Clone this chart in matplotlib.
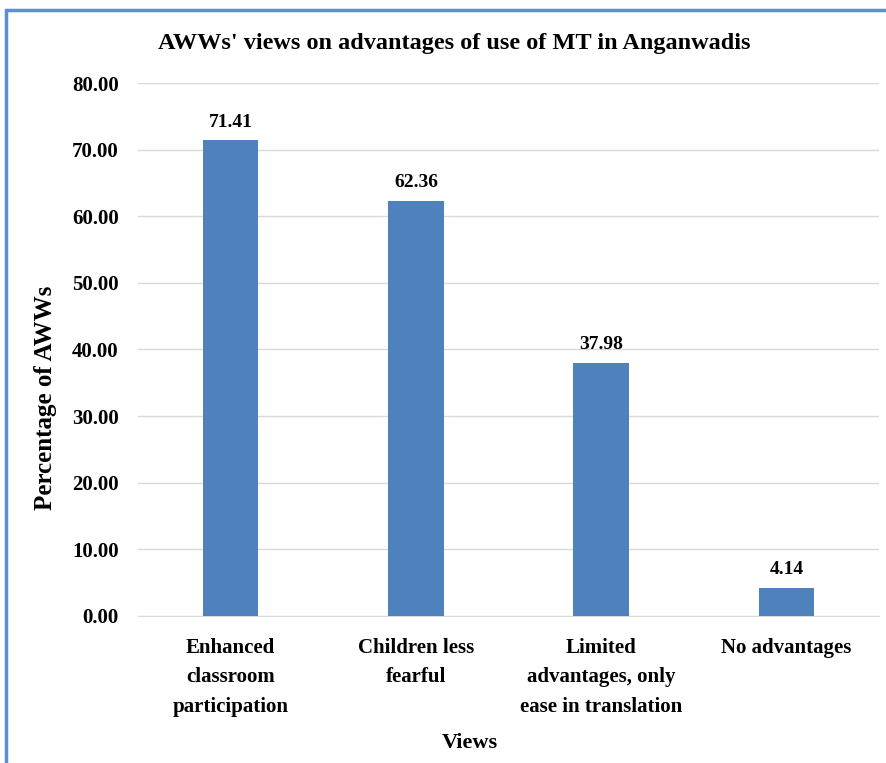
import matplotlib.pyplot as plt
from matplotlib.patches import Rectangle

categories = ['Enhanced\nclassroom\nparticipation', 'Children less\nfearful',
              'Limited\nadvantages, only\nease in translation', 'No advantages']
values = [71.41, 62.36, 37.98, 4.14]
yticks = [0, 10, 20, 30, 40, 50, 60, 70, 80]

plt.rcParams['font.family'] = ['Liberation Serif', 'DejaVu Serif']
plt.rcParams['font.weight'] = 'bold'

fig = plt.figure(figsize=(8.87, 7.63), dpi=100)
ax = fig.add_axes([0.1556, 0.193, 0.8354, 0.698])

x = range(len(categories))
bars = ax.bar(x, values, width=0.3, color='#4F81BD', zorder=3)
for b, v in zip(bars, values):
    ax.annotate(f'{v:.2f}', (b.get_x() + b.get_width() / 2, v),
                xytext=(0, 7), textcoords='offset points',
                ha='center', va='bottom', fontsize=14, fontweight='bold')

ax.set_xlim(-0.5, 3.5)
ax.set_ylim(0, 80)
ax.set_yticks(yticks)
ax.set_yticklabels([f'{t:.2f}' for t in yticks], fontsize=15, fontweight='bold')
ax.set_xticks(list(x))
ax.set_xticklabels(categories, fontsize=15, fontweight='bold', linespacing=1.62)
ax.tick_params(axis='both', length=0)
ax.tick_params(axis='y', pad=14)
ax.tick_params(axis='x', pad=16)
ax.grid(axis='y', color='#D9D9D9', linewidth=1, zorder=0)
for s in ['top', 'right', 'left']:
    ax.spines[s].set_visible(False)
ax.spines['bottom'].set_color('#D9D9D9')

ax.set_ylabel('Percentage of AWWs', fontsize=18, fontweight='bold')
ax.yaxis.set_label_coords(-0.11, 0.41)
ax.set_xlabel('Views', fontsize=16, fontweight='bold')
ax.xaxis.set_label_coords((470 - 138) / 741, -0.22)

fig.text(0.512, 0.943, "AWWs' views on advantages of use of MT in Anganwadis",
         ha='center', va='center', fontsize=17.5, fontweight='bold')

# blue frame around the chart (right/bottom edges fall outside the image)
fig.patches.append(Rectangle((6 / 887, -0.05), 1.1, 1 - 10 / 763 + 0.05,
                             transform=fig.transFigure, fill=False,
                             edgecolor='#5B8DD9', linewidth=2.5))

fig.savefig('out.png', dpi=100)
